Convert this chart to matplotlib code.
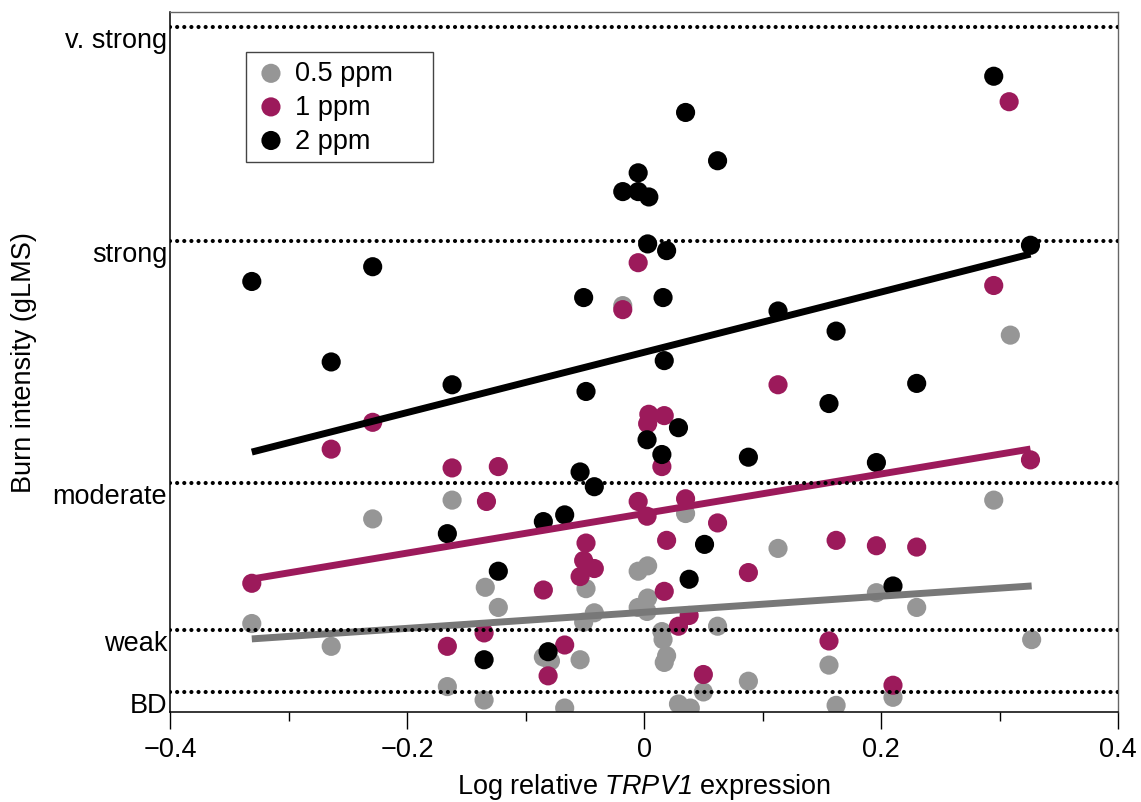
import matplotlib
matplotlib.use("Agg")
import matplotlib.pyplot as plt
import numpy as np

plt.rcParams['font.family'] = ['Liberation Sans', 'DejaVu Sans']
# mathtext is only used for the italic gene name in the x label
plt.rcParams['mathtext.fontset'] = 'custom'
plt.rcParams['mathtext.rm'] = 'Liberation Sans:italic'
plt.rcParams['mathtext.it'] = 'Liberation Sans:italic'

# gLMS descriptor levels
levels = [1.4, 6, 17, 35, 51]
level_names = ['BD', 'weak', 'moderate', 'strong', 'v. strong']

# 0.5 ppm
x_05 = [-0.331, -0.264, -0.229, -0.162, -0.166, -0.134, -0.123, -0.135, -0.085, -0.079,
        -0.067, -0.054, -0.051, -0.049, -0.042, -0.018, -0.005, 0.003, -0.005, 0.003,
        0.0025, 0.015, 0.016, 0.019, 0.017, 0.029, 0.039, 0.035, 0.050, 0.062,
        0.088, 0.113, 0.156, 0.162, 0.196, 0.210, 0.230, 0.295, 0.309, 0.327]
y_05 = [6.5, 4.8, 14.3, 15.7, 1.8, 9.2, 7.7, 0.8, 4.0, 3.7,
        0.2, 3.8, 6.6, 9.1, 7.3, 30.2, 10.4, 10.8, 7.7, 8.4,
        7.4, 5.9, 5.3, 4.1, 3.6, 0.5, 0.2, 14.7, 1.4, 6.3,
        2.2, 12.1, 3.4, 0.4, 8.8, 1.0, 7.7, 15.7, 28.0, 5.3]

# 1 ppm
x_1 = [-0.331, -0.264, -0.229, -0.162, -0.123, -0.133, -0.005, -0.018, 0.004, 0.017,
       0.003, 0.015, -0.005, 0.035, 0.0025, 0.062, -0.049, 0.019, -0.051, -0.042,
       -0.054, -0.085, 0.017, 0.038, 0.029, -0.135, -0.166, -0.067, -0.081, 0.050,
       0.295, 0.113, 0.326, 0.162, 0.196, 0.230, 0.088, 0.156, 0.210, 0.308]
y_1 = [9.5, 19.5, 21.5, 18.1, 18.2, 15.6, 33.4, 29.9, 22.1, 22.0,
       21.4, 18.2, 15.6, 15.8, 14.5, 14.0, 12.5, 12.7, 11.2, 10.6,
       10.0, 9.0, 8.9, 7.1, 6.3, 5.8, 4.8, 4.9, 2.6, 2.7,
       31.7, 24.3, 18.7, 12.7, 12.3, 12.2, 10.3, 5.2, 1.9, 45.4]

# 2 ppm
x_2 = [-0.331, -0.229, -0.264, -0.162, -0.051, -0.049, -0.005, -0.018, -0.005, 0.004,
       0.003, 0.019, 0.016, 0.035, 0.062, 0.017, 0.113, 0.162, 0.295, 0.326,
       0.230, 0.156, 0.0025, 0.029, 0.015, 0.088, 0.196, -0.054, -0.042, -0.067,
       -0.085, -0.166, 0.051, -0.123, 0.038, 0.210, -0.135, -0.081]
y_2 = [32.0, 33.1, 26.0, 24.3, 30.8, 23.8, 40.1, 38.7, 38.7, 38.3,
       34.8, 34.3, 30.8, 44.6, 41.0, 26.1, 29.8, 28.3, 47.3, 34.7,
       24.4, 22.9, 20.2, 21.1, 19.1, 18.9, 18.5, 17.8, 16.7, 14.6,
       14.1, 13.2, 12.4, 10.4, 9.8, 9.3, 3.8, 4.4]

# regression fits (slope, intercept at x=0)
fit_05 = (6.0, 7.34)
fit_1 = (14.75, 14.70)
fit_2 = (22.47, 26.72)

series = [
    (x_05, y_05, fit_05, '#969696', '#787878', '0.5 ppm'),
    (x_1, y_1, fit_1, '#9c1a5b', '#9c1a5b', '1 ppm'),
    (x_2, y_2, fit_2, '#000000', '#000000', '2 ppm'),
]

fig = plt.figure(figsize=(11.41, 8.03), dpi=100)
ax = fig.add_axes([0.149, 0.112, 0.831, 0.872])

for xs, ys, fit, c, lc, lab in series:
    ax.scatter(xs, ys, s=190, color=c, edgecolors='none', label=lab, zorder=2)

for xs, ys, fit, c, lc, lab in series:
    k, b = fit
    xx = np.array([min(xs), max(xs)])
    ax.plot(xx, k * xx + b, color=lc, lw=5, solid_capstyle='butt', zorder=3)

for lv in levels:
    ax.axhline(lv, color='black', lw=3.0, linestyle=(0, (0.01, 1.7)),
               dash_capstyle='round', zorder=4)

ax.set_xlim(-0.4, 0.4)
ax.set_ylim(-0.1, 52.1)
ax.set_xticks([-0.4, -0.2, 0, 0.2, 0.4])
ax.set_xticklabels(['\u22120.4', '\u22120.2', '0', '0.2', '0.4'])
ax.set_xticks([-0.3, -0.1, 0.1, 0.3], minor=True)
ax.tick_params(axis='x', which='major', direction='out', length=12, width=1,
               labelsize=19.5, pad=5)
ax.tick_params(axis='x', which='minor', direction='out', length=6.5, width=1)

ax.set_yticks(levels)
ax.set_yticklabels(level_names)
ax.tick_params(axis='y', length=0, labelsize=19.5, pad=2)
for t in ax.get_yticklabels():
    t.set_verticalalignment('top')

for s in ['left', 'bottom']:
    ax.spines[s].set_color('black')
    ax.spines[s].set_linewidth(1.1)
for s in ['top', 'right']:
    ax.spines[s].set_color('#666666')
    ax.spines[s].set_linewidth(1.0)

ax.set_xlabel('Log relative $\\mathrm{TRPV1}$ expression', fontsize=19.5, labelpad=7)
ax.set_ylabel('Burn intensity (gLMS)', fontsize=19.5, labelpad=11)

leg = ax.legend(loc='upper left', bbox_to_anchor=(0.0802, 0.80, 0.197, 0.143),
                mode='expand', borderaxespad=0,
                fontsize=19.5, frameon=True, fancybox=False, framealpha=1,
                edgecolor='#444444', handletextpad=0.3, labelspacing=0.28,
                borderpad=0.32, handlelength=1.2, scatterpoints=1)
leg.get_frame().set_linewidth(1.0)

fig.savefig('out.png', dpi=100)
